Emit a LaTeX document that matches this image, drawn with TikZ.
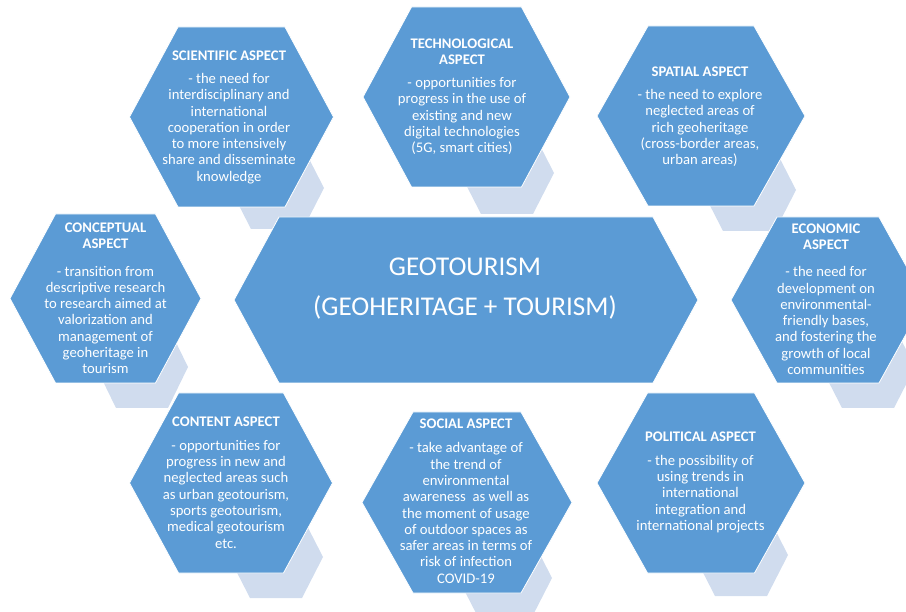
\documentclass[tikz,border=0pt]{standalone}
\usepackage{fontspec}
\setmainfont{Carlito}
\definecolor{hexblue}{HTML}{5B9BD5}
\definecolor{hexshade}{HTML}{D0DCEE}
% hexagon path: centre x, centre y, half width, half top edge, half height
\newcommand\myhex[5]{(#1-#3,#2) -- (#1-#4,#2-#5) -- (#1+#4,#2-#5) -- (#1+#3,#2) -- (#1+#4,#2+#5) -- (#1-#4,#2+#5) -- cycle}
\newcommand\fstrut{\rule{0pt}{10pt}}
\begin{document}
\begin{tikzpicture}[x=1pt,y=-1pt,
  shadehex/.style={fill=hexshade},
  mainhex/.style={fill=hexblue, draw=white, line width=0.8pt},
  hextext/.style={text=white, align=center, inner sep=0pt, anchor=north,
    font=\fontsize{14.67}{16.3}\selectfont},
  bigtext/.style={text=white, align=center, inner sep=0pt, anchor=north,
    font=\fontsize{27.1}{40.7}\selectfont}]
\useasboundingbox (0,0) rectangle (906,612);
% small background hexagons
\fill[shadehex] \myhex{277}{188}{47}{26}{41};
\fill[shadehex] \myhex{507}{173}{47}{26}{41};
\fill[shadehex] \myhex{749}{190}{47}{26}{41};
\fill[shadehex] \myhex{142}{367}{46}{26}{41};
\fill[shadehex] \myhex{868}{367}{47}{26}{41};
\fill[shadehex] \myhex{276}{557}{47}{26}{41};
\fill[shadehex] \myhex{505}{578}{47}{26}{41};
\fill[shadehex] \myhex{741}{555}{47}{26}{41};
% main hexagons
\filldraw[mainhex] \myhex{231.5}{117}{102}{53.5}{90};
\filldraw[mainhex] \myhex{466.5}{97}{103.5}{55}{90};
\filldraw[mainhex] \myhex{701}{116}{104}{53}{90};
\filldraw[mainhex] \myhex{105.5}{298.5}{95.5}{50}{84.5};
\filldraw[mainhex] \myhex{828}{300}{97}{51}{83};
\filldraw[mainhex] \myhex{231}{483}{101.5}{52.5}{90};
\filldraw[mainhex] \myhex{467}{502.5}{105}{54}{90.5};
\filldraw[mainhex] \myhex{701}{483}{104}{53.5}{90};
\filldraw[mainhex] \myhex{466}{300}{232}{187}{83};
% texts
\node[bigtext] (center) at (465,255) {\rule{0pt}{20pt}GEOTOURISM\\(GEOHERITAGE + TOURISM)};
\node[hextext] (sci) at (229,50) {\fstrut\textbf{SCIENTIFIC ASPECT}\\[7pt]
  - the need for\\interdisciplinary and\\international\\cooperation in order\\to more intensively\\share and disseminate\\knowledge};
\node[hextext] (tech) at (462,38.3) {\fstrut\textbf{TECHNOLOGICAL}\\\textbf{ASPECT}\\[6.4pt]
  - opportunities for\\progress in the use of\\existing and new\\digital technologies\\(5G, smart cities)};
\node[hextext] (spat) at (700,66) {\fstrut\textbf{SPATIAL ASPECT}\\[7pt]
  - the need to explore\\neglected areas of\\rich geoheritage\\(cross-border areas,\\urban areas)};
\node[hextext] (conc) at (105.5,222.3) {\fstrut\textbf{CONCEPTUAL}\\\textbf{ASPECT}\\[11pt]
  - transition from\\descriptive research\\to research aimed at\\valorization and\\management of\\geoheritage in\\tourism};
\node[hextext] (econ) at (826,223.3) {\fstrut\textbf{ECONOMIC}\\\textbf{ASPECT}\\[10.7pt]
  - the need for\\development on\\environmental-\\friendly bases,\\and fostering the\\growth of local\\communities};
\node[hextext] (cont) at (226,416.7) {\fstrut\textbf{CONTENT ASPECT}\\[7pt]
  - opportunities for\\progress in new and\\neglected areas such\\as urban geotourism,\\sports geotourism,\\medical geotourism\\etc.};
\node[hextext] (soc) at (466,418.3) {\fstrut\textbf{SOCIAL ASPECT}\\[8pt]
  - take advantage of\\the trend of\\environmental\\awareness\ \ as well as\\the moment of usage\\of outdoor spaces as\\safer areas in terms of\\risk of infection\\COVID-19};
\node[hextext] (pol) at (700.5,431) {\fstrut\textbf{POLITICAL ASPECT}\\[7.7pt]
  - the possibility of\\using trends in\\international\\integration and\\international projects};
\end{tikzpicture}
\end{document}
